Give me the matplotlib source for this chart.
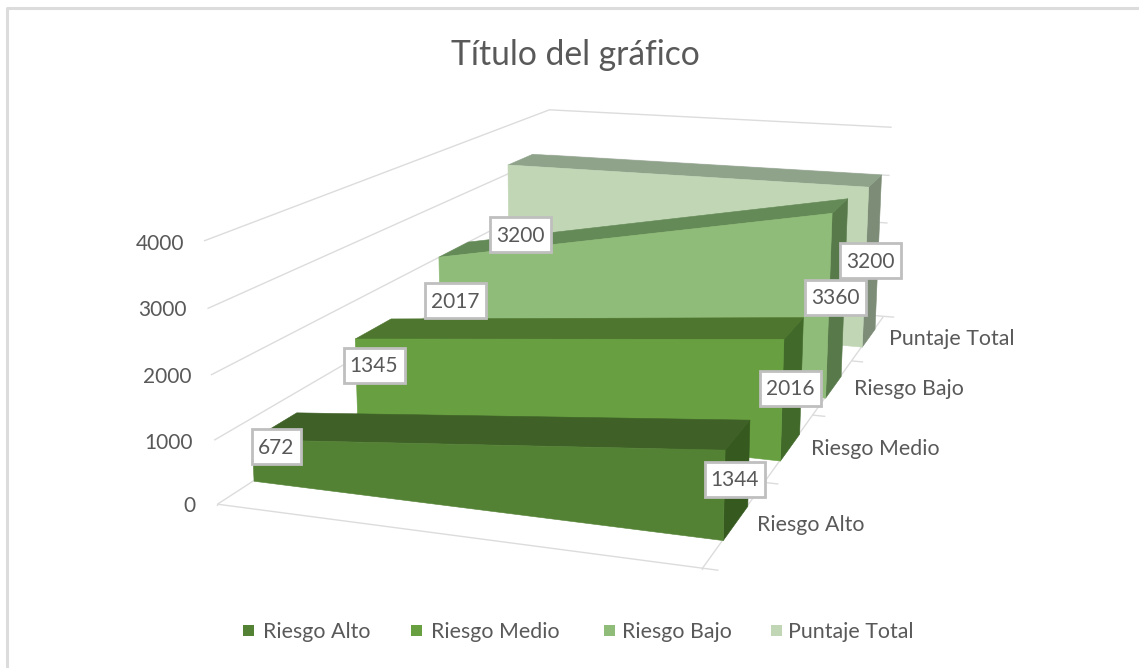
import numpy as np
import matplotlib
matplotlib.use('Agg')
import matplotlib.pyplot as plt
from matplotlib.patches import Rectangle
from matplotlib.lines import Line2D
from mpl_toolkits.mplot3d.art3d import Poly3DCollection, Line3DCollection

plt.rcParams['font.family'] = ['Lato', 'DejaVu Sans']

series = ['Riesgo Alto', 'Riesgo Medio', 'Riesgo Bajo', 'Puntaje Total']
start_values = [672, 1345, 2017, 3200]
end_values = [1344, 2016, 3360, 3200]
value_ticks = [0, 1000, 2000, 3000, 4000]

front_colors = ['#548235', '#68a041', '#8fbc78', '#c1d6b5']
top_colors = ['#3f6127', '#4e762f', '#648a57', '#8ea38a']
side_colors = ['#35591f', '#41692a', '#587a4a', '#7c8c76']
text_color = '#595959'
grid_color = '#dcdcdc'

# camera of the 3D view: (x 0-1, depth 0-1, value 0-1) -> picture pixels
camera = np.array([[423.813206, 608.560521, -20.886731, 217.466676],
                   [14.464364, -71.232483, -272.039456, 504.198789],
                   [-0.087153, 0.501702, -0.036318, 1.0]])

W, H = 1139, 668
fig = plt.figure(figsize=(W / 100, H / 100), dpi=100, facecolor='white')
ax = fig.add_axes([0, 0, 1, 1], projection='3d', computed_zorder=False)
ax.set_xlim(0, 1)
ax.set_ylim(0, len(series))
ax.set_zlim(0, value_ticks[-1])
ax.set_axis_off()
ax.apply_aspect()

# data units -> pixels -> display -> the 2D limits of the 3d axes
to_unit = np.diag([1, 1 / len(series), 1 / value_ticks[-1], 1])
flip = np.array([[1, 0, 0], [0, -1, H], [0, 0, 1]])
to_2d = np.linalg.inv(ax.transData.get_affine().get_matrix())
proj = to_2d @ flip @ camera @ to_unit
M = np.vstack([proj[0], proj[1], [0, 1, 0, 0], proj[2]])
ax.get_proj = lambda: M

# walls and floor
segments = []
for v in value_ticks:
    segments.append([(0, 0, v), (0, 4, v), (1, 4, v)])
segments.append([(0, 0, 0), (1, 0, 0), (1, 4, 0)])
segments.append([(0, 0, 0), (0, 0, -28)])
segments.append([(1, 0, 0), (1, 0, -28)])
for k in range(5):
    segments.append([(1, k, 0), (1.03, k, 0)])
grid = Line3DCollection(segments, colors=grid_color, linewidths=1.0, zorder=1)
ax.add_collection3d(grid, autolim=False)
grid.set_clip_on(False)

for k in range(3, -1, -1):
    y0, y1 = k + 0.3, k + 0.7
    a, b = start_values[k], end_values[k]
    faces = [
        ([(1, y0, 0), (1, y1, 0), (1, y1, b), (1, y0, b)], side_colors[k]),
        ([(0, y0, a), (1, y0, b), (1, y1, b), (0, y1, a)], top_colors[k]),
        ([(0, y0, 0), (1, y0, 0), (1, y0, b), (0, y0, a)], front_colors[k]),
    ]
    for poly, color in faces:
        col = Poly3DCollection([poly], facecolors=color, edgecolors=color, linewidths=0.4,
                               zorder=10 + (3 - k) * 3)
        ax.add_collection3d(col, autolim=False)
        col.set_clip_on(False)


def px_text(x, y, s, **kw):
    return fig.text(x / W, 1 - y / H, s, color=text_color, **kw)


def px_box(x0, y0, w, h, **kw):
    fig.add_artist(Rectangle((x0 / W, 1 - (y0 + h) / H), w / W, h / H,
                             transform=fig.transFigure, **kw))


px_text(575, 55, 'Título del gráfico', fontsize=24.2, ha='center', va='center')

tick_x = [196, 193, 191, 187, 184]
tick_y = [506, 443, 377, 310, 244]
for v, tx, ty in zip(value_ticks, tick_x, tick_y):
    px_text(tx, ty, str(v), fontsize=15, ha='right', va='center')

cat_x = [757, 811, 854, 889]
cat_y = [525, 449, 389, 339]
for name, cx, cy in zip(series, cat_x, cat_y):
    px_text(cx, cy, name, fontsize=15.4, ha='left', va='center')

label_values = start_values + end_values
label_x = [276.5, 374, 455, 520, 735, 790, 835.5, 870]
label_y = [446.5, 365.5, 300.5, 234.5, 479, 388, 297.5, 260.5]
for val, lx, ly in zip(label_values, label_x, label_y):
    bw = 49 if val < 1000 else 61
    px_box(lx - bw / 2, ly - 17.5, bw, 35, fc='white', ec='#bfbfbf', lw=2, zorder=5)
    px_text(lx, ly + 1, str(val), fontsize=15, ha='center', va='center', zorder=6)

legend_x = [243, 411, 604, 771]
legend_text_x = [263, 431, 622, 788]
for name, c, lx, tx in zip(series, front_colors, legend_x, legend_text_x):
    px_box(lx, 625, 11, 11, fc=c, ec='none')
    px_text(tx, 632, name, fontsize=15.4, ha='left', va='center')

# chart frame, left and top only
fig.add_artist(Line2D([7 / W, 7 / W, 1], [0, 1 - 8 / H, 1 - 8 / H], color=grid_color, lw=2.2))

fig.savefig('out.png', dpi=100)
